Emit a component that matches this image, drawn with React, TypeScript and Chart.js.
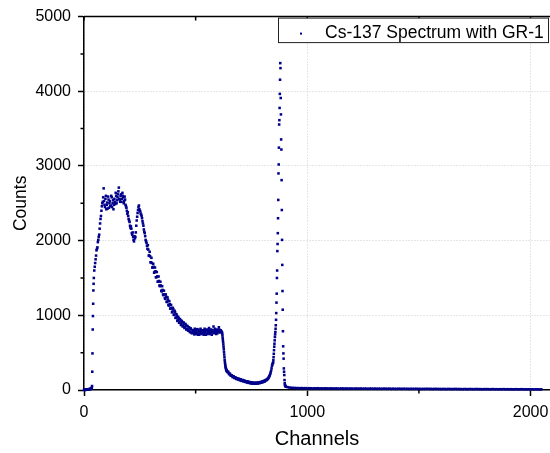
import React, { useEffect, useRef } from 'react';
import { Chart, registerables } from 'chart.js';

Chart.register(...registerables);

const FONT = '"Liberation Sans", Arial, Helvetica, sans-serif';

const seriesLabel = 'Cs-137 Spectrum with GR-1';
const xTitle = 'Channels';
const yTitle = 'Counts';
const xMajorTicks = [0, 1000, 2000];
const xMinorTicks = [500, 1500];
const yMajorTicks = [0, 1000, 2000, 3000, 4000, 5000];
const yMinorTicks = [500, 1500, 2500, 3500, 4500];
const xMin = 0;
const xMax = 2087;
const yMin = 0;
const yMax = 5000;

// low-energy threshold and steep rise (explicit channels)
const riseChannels = [0, 2, 4, 6, 8, 10, 12, 14, 16, 18, 20, 22, 24, 26, 28, 30, 32, 34, 35, 36, 37, 38, 39, 40, 41, 42, 43];
const riseCounts = [0, 4, 1, 6, 2, 5, 8, 4, 9, 6, 11, 8, 13, 10, 15, 14, 19, 24, 32, 53, 245, 490, 810, 990, 1155, 1333, 1422];

// backscatter / Compton continuum, channels 44..616 every 4
const bodyStart = 44;
const bodyStep = 4;
const bodyCounts = [
  1500, 1650, 1750, 1870, 1910, 2010, 2080, 2230, 2330, 2460,
  2520, 2700, 2480, 2560, 2420, 2510, 2590, 2440, 2530, 2470,
  2580, 2500, 2420, 2560, 2490, 2600, 2540, 2620, 2710, 2550,
  2600, 2520, 2640, 2580, 2530, 2550, 2460, 2400, 2380, 2290,
  2250, 2170, 2160, 2080, 2050, 1990, 2030, 2110, 2270, 2370,
  2450, 2420, 2390, 2350, 2300, 2230, 2150, 2100, 2010, 1970,
  1890, 1880, 1800, 1790, 1710, 1700, 1640, 1650, 1580, 1590,
  1510, 1520, 1450, 1460, 1390, 1400, 1320, 1340, 1270, 1280,
  1220, 1250, 1180, 1210, 1130, 1150, 1090, 1100, 1050, 1080,
  1010, 1040, 970, 995, 940, 960, 910, 935, 880, 910,
  860, 885, 840, 870, 815, 850, 800, 830, 780, 810,
  760, 800, 770, 820, 750, 790, 760, 810, 740, 780,
  800, 760, 790, 740, 820, 770, 800, 750, 790, 830,
  760, 780, 740, 800, 850, 770, 790, 750, 810, 780,
  840, 790, 800, 780,
];

// interleaved continuum channels 46..614 every 4
const bodyBStart = 46;
const bodyBStep = 4;
const bodyCountsB = [
  1600, 1700, 1800, 1890, 1980, 2050, 2160, 2290, 2400, 2500,
  2580, 2530, 2450, 2600, 2480, 2430, 2550, 2500, 2460, 2600,
  2450, 2540, 2480, 2520, 2640, 2500, 2580, 2660, 2560, 2520,
  2620, 2560, 2600, 2500, 2590, 2480, 2440, 2360, 2330, 2270,
  2200, 2190, 2100, 2110, 2010, 2060, 2050, 2200, 2320, 2410,
  2470, 2400, 2360, 2330, 2260, 2200, 2120, 2060, 1990, 1930,
  1940, 1800, 1850, 1710, 1770, 1640, 1690, 1570, 1640, 1510,
  1580, 1450, 1520, 1400, 1450, 1330, 1390, 1280, 1330, 1230,
  1280, 1180, 1240, 1140, 1190, 1090, 1140, 1040, 1100, 1005,
  1060, 965, 1015, 925, 980, 900, 950, 870, 925, 850,
  905, 830, 885, 810, 860, 795, 840, 775, 825, 765,
  770, 790, 745, 800, 770, 815, 740, 790, 765, 820,
  750, 780, 800, 760, 790, 740, 810, 770, 800, 750,
  790, 810, 770, 780, 760, 820, 770, 800, 760, 790,
  810, 770, 790,
];

// Compton edge (explicit channels)
const edgeChannels = [618, 619, 620, 621, 622, 623, 624, 625, 626, 627, 628, 629, 630, 631, 632, 633, 634, 635, 636, 637, 638, 639, 640, 642];
const edgeCounts = [770, 755, 730, 700, 670, 640, 610, 580, 545, 510, 475, 440, 405, 375, 350, 328, 310, 295, 282, 272, 264, 257, 250, 243];

// valley, channels 644..816 every 4
const valleyStart = 644;
const valleyStep = 4;
const valleyCounts = [
  240, 225, 218, 200, 198, 185, 182, 170, 170, 158,
  157, 148, 147, 140, 140, 131, 132, 124, 124, 116,
  117, 109, 111, 103, 105, 98, 100, 92, 96, 89,
  93, 88, 94, 90, 97, 94, 100, 100, 106, 108,
  116, 118, 128, 132,
];

// interleaved valley channels 646..814 every 4
const valleyBStart = 646;
const valleyBStep = 4;
const valleyCountsB = [
  245, 212, 215, 192, 196, 172, 184, 160, 170, 148,
  158, 140, 150, 130, 142, 122, 134, 114, 126, 108,
  118, 100, 112, 95, 107, 88, 102, 85, 98, 84,
  97, 85, 99, 87, 102, 91, 107, 97, 114, 106,
  124, 116, 134,
];

// photopeak (explicit channels)
const peakChannels = [
  818, 820, 822, 824, 826, 828, 830, 832, 834, 836, 838, 840, 842, 844, 846,
  847, 848, 849, 850, 851, 852, 853, 854, 855, 856, 857, 858, 859, 860, 861,
  862, 863, 864, 865, 866, 867, 868, 869, 870, 871, 872, 873, 874, 875, 876,
  877, 878, 879, 880, 881, 882, 883, 884, 885, 886, 887, 888, 889, 890, 891,
  892, 893, 894, 895, 896, 897, 898, 899, 900, 901, 903,
];
const peakCounts = [
  135, 140, 148, 152, 162, 172, 185, 198, 215, 235, 260, 290, 325, 345, 360,
  370, 400, 440, 485, 533, 580, 620, 665, 710, 745, 777, 820, 867, 940, 1030,
  1170, 1290, 1500, 1600, 1860, 1955, 2100, 2300, 2545, 2900, 3020, 3245, 3555, 3613, 3777,
  3965, 4155, 4377, 4310, 3910, 3690, 3355, 3220, 2810, 2410, 2010, 1675, 1325, 1075, 787,
  585, 490, 420, 289, 245, 200, 133, 90, 67, 58, 50,
];

// high-channel tail, channels 904..2048 every 8
const tailStart = 904;
const tailStep = 8;
const tailCounts = [
  45, 38, 33, 30, 28, 27, 26, 25,
  24, 26, 23, 25, 22, 24, 23, 21,
  23, 22, 24, 21, 22, 20, 23, 21,
  20, 22, 21, 19, 21, 20, 18, 21,
  20, 19, 21, 18, 20, 19, 17, 20,
  19, 18, 20, 17, 19, 18, 16, 19,
  18, 17, 19, 16, 18, 17, 16, 18,
  17, 16, 18, 15, 17, 16, 15, 17,
  16, 15, 17, 15, 16, 14, 16, 15,
  15, 16, 14, 15, 13, 15, 14, 16,
  14, 15, 13, 14, 15, 13, 14, 12,
  14, 13, 12, 14, 13, 12, 13, 14,
  12, 13, 12, 11, 13, 12, 11, 13,
  12, 11, 12, 13, 11, 12, 10, 12,
  11, 12, 10, 11, 12, 10, 11, 10,
  11, 10, 12, 10, 11, 9, 11, 10,
  10, 11, 9, 10, 11, 9, 10, 9,
  10, 9, 10, 8, 10, 9, 8, 9,
];

function buildPoints() {
  const pts: { x: number; y: number }[] = [];
  riseChannels.forEach((c, i) => pts.push({ x: c, y: riseCounts[i] }));
  bodyCounts.forEach((v, i) => pts.push({ x: bodyStart + i * bodyStep, y: v }));
  bodyCountsB.forEach((v, i) => pts.push({ x: bodyBStart + i * bodyBStep, y: v }));
  edgeChannels.forEach((c, i) => pts.push({ x: c, y: edgeCounts[i] }));
  valleyCounts.forEach((v, i) => pts.push({ x: valleyStart + i * valleyStep, y: v }));
  valleyCountsB.forEach((v, i) => pts.push({ x: valleyBStart + i * valleyBStep, y: v }));
  peakChannels.forEach((c, i) => pts.push({ x: c, y: peakCounts[i] }));
  tailCounts.forEach((v, i) => pts.push({ x: tailStart + i * tailStep, y: v }));
  return pts;
}

const POINT_COLOR = 'rgb(0,0,139)';

const framePlugin = {
  id: 'frameAndLegend',
  afterDraw(chart: any) {
    const { ctx, chartArea: a, scales } = chart;
    const xs = scales.x;
    const ys = scales.y;
    ctx.save();
    ctx.strokeStyle = '#000';
    ctx.lineWidth = 1.5;
    ctx.beginPath();
    ctx.moveTo(a.left, a.top);
    ctx.lineTo(a.right, a.top);
    [...xMajorTicks, ...xMinorTicks].forEach((v) => {
      const px = xs.getPixelForValue(v);
      ctx.moveTo(px, a.top);
      ctx.lineTo(px, a.top + 4);
    });
    xMinorTicks.forEach((v) => {
      const px = xs.getPixelForValue(v);
      ctx.moveTo(px, a.bottom);
      ctx.lineTo(px, a.bottom + 3.5);
    });
    yMinorTicks.forEach((v) => {
      const py = ys.getPixelForValue(v);
      ctx.moveTo(a.left, py);
      ctx.lineTo(a.left - 3.5, py);
    });
    ctx.stroke();

    // legend box
    const bx = a.right - 271.5;
    const by = a.top + 1.5;
    const bw = 270;
    const bh = 24.5;
    ctx.fillStyle = '#fff';
    ctx.fillRect(bx, by, bw, bh);
    ctx.lineWidth = 1;
    ctx.strokeStyle = '#222';
    ctx.strokeRect(bx, by, bw, bh);
    ctx.fillStyle = POINT_COLOR;
    ctx.fillRect(bx + 21.5, by + 14.5, 2, 2);
    ctx.fillStyle = '#000';
    ctx.font = '17.5px ' + FONT;
    ctx.textBaseline = 'alphabetic';
    ctx.textAlign = 'left';
    ctx.fillText(chart.data.datasets[0].label, bx + 46.5, by + 19.5);
    ctx.restore();
  },
};

export default function App() {
  const canvasRef = useRef<HTMLCanvasElement | null>(null);

  useEffect(() => {
    const canvas = canvasRef.current;
    if (!canvas) return;
    const chart = new Chart(canvas, {
      type: 'scatter',
      data: {
        datasets: [
          {
            label: seriesLabel,
            data: buildPoints(),
            backgroundColor: POINT_COLOR,
            borderColor: POINT_COLOR,
            pointStyle: 'rect',
            pointRadius: 1.8,
            pointHoverRadius: 0,
            pointBorderWidth: 0,
            clip: false as any,
          },
        ],
      },
      options: {
        animation: false,
        responsive: false,
        devicePixelRatio: 1,
        events: [],
        layout: { autoPadding: false, padding: { top: 15, left: 0, right: 0, bottom: 0 } },
        plugins: {
          legend: { display: false },
          tooltip: { enabled: false },
        },
        scales: {
          x: {
            type: 'linear',
            position: 'bottom',
            min: xMin,
            max: xMax,
            afterBuildTicks: (s: any) => {
              s.ticks = xMajorTicks.map((v) => ({ value: v }));
            },
            afterFit: (s: any) => {
              s.height = 63;
              s.paddingLeft = 0;
              s.paddingRight = 0;
            },
            ticks: {
              font: { family: FONT, size: 16 },
              color: '#000',
              padding: 7,
              maxRotation: 0,
              autoSkip: false,
              callback: (v: any) => String(v),
            },
            grid: {
              color: '#cccccc',
              lineWidth: 1,
              tickLength: 6,
              tickColor: '#000',
              tickWidth: 1.5,
            },
            border: { color: '#000', width: 1.5, dash: [1, 2] },
            title: {
              display: true,
              text: xTitle,
              color: '#000',
              font: { family: FONT, size: 20 },
              padding: { top: 0, bottom: 2 },
            },
          },
          y: {
            type: 'linear',
            position: 'left',
            min: yMin,
            max: yMax,
            afterBuildTicks: (s: any) => {
              s.ticks = yMajorTicks.map((v) => ({ value: v }));
            },
            afterFit: (s: any) => {
              s.width = 84;
            },
            ticks: {
              font: { family: FONT, size: 16 },
              color: '#000',
              padding: 7,
              callback: (v: any) => String(v),
            },
            grid: {
              color: '#cccccc',
              lineWidth: 1,
              tickLength: 6,
              tickColor: '#000',
              tickWidth: 1.5,
            },
            border: { color: '#000', width: 1.5, dash: [1, 2] },
            title: {
              display: true,
              text: yTitle,
              color: '#000',
              font: { family: FONT, size: 17.5 },
              padding: { top: 11, bottom: 0 },
            },
          },
        },
      },
      plugins: [framePlugin],
    });
    return () => chart.destroy();
  }, []);

  return (
    <div style={{ position: 'absolute', left: 0, top: 0, width: 550, height: 453, background: '#fff' }}>
      <canvas ref={canvasRef} width={550} height={453} style={{ display: 'block', width: 550, height: 453 }} />
    </div>
  );
}
